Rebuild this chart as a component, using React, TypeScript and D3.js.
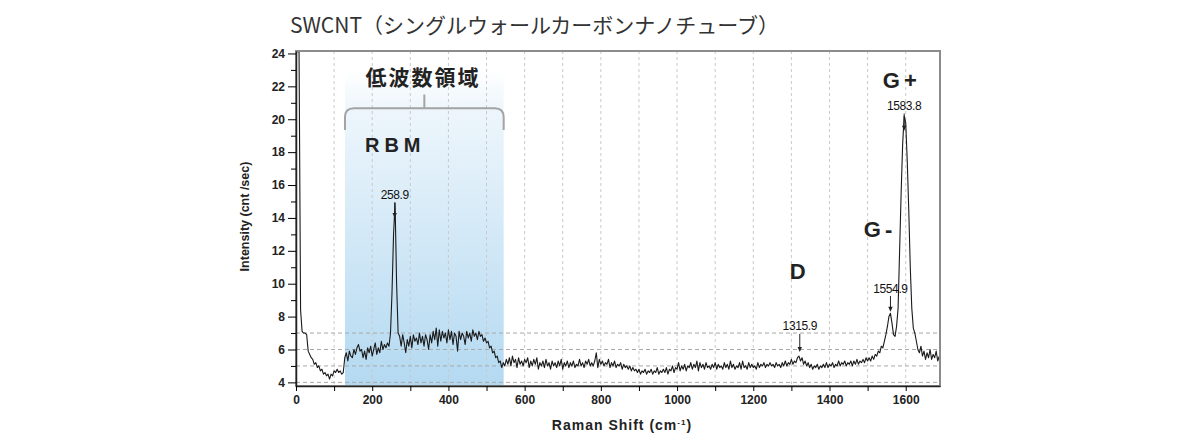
import { useEffect, useRef } from 'react';
import * as d3 from 'd3';

// Raman spectrum sampled every 4 cm-1 starting at 0
const shiftStart = 0;
const shiftStep = 4;
const intensity = [
  // 0 - 124
  24.1, 24.1, 24.1, 8.4, 7.1, 7.0, 7.0, 6.9, 5.9, 5.7, 5.5, 5.4, 5.1, 5.2, 4.9, 5.0,
  4.7, 4.8, 4.5, 4.6, 4.4, 4.5, 4.2, 4.5, 4.4, 4.7, 4.6, 4.8, 4.6, 4.7, 4.5, 4.6,
  // 128 - 252
  5.5, 5.8, 5.3, 5.9, 5.6, 5.5, 6.0, 5.7, 6.1, 6.3, 5.9, 6.0, 5.5, 5.9, 5.4, 6.1,
  5.8, 6.2, 5.6, 6.0, 6.4, 5.7, 6.1, 5.8, 6.5, 6.0, 6.3, 6.1, 6.4, 6.2, 7.0, 9.5,
  // 256 - 380 (RBM)
  13.0, 14.9, 10.0, 7.0, 6.8, 6.2, 6.9, 6.4, 5.8, 6.6, 6.2, 6.8, 6.1, 6.9, 6.5, 6.7,
  6.3, 7.0, 6.4, 6.8, 6.2, 6.9, 6.6, 6.0, 6.9, 6.4, 7.1, 6.6, 7.3, 6.2, 7.2, 6.5,
  // 384 - 508
  7.1, 6.7, 7.0, 6.4, 7.2, 6.6, 7.1, 6.3, 7.0, 6.8, 5.9, 7.1, 6.6, 7.0, 6.8, 6.3,
  7.1, 6.7, 7.0, 6.5, 7.2, 6.8, 7.0, 6.6, 7.1, 6.8, 6.9, 6.5, 6.7, 6.4, 6.5, 6.1,
  // 512 - 636
  6.2, 5.8, 5.9, 5.5, 5.6, 5.2, 5.3, 4.9, 5.2, 5.0, 5.4, 5.1, 5.5, 5.0, 5.6, 5.2,
  5.4, 4.9, 5.5, 5.1, 5.3, 5.0, 5.4, 5.2, 5.5, 4.9, 5.3, 5.0, 5.4, 5.1, 5.5, 4.8,
  // 640 - 764
  5.2, 5.0, 5.3, 4.9, 5.4, 5.0, 5.2, 4.8, 5.3, 5.0, 5.2, 4.9, 5.3, 5.0, 5.4, 4.8,
  5.2, 5.0, 5.3, 4.9, 5.2, 5.0, 5.3, 4.9, 5.1, 5.0, 5.4, 5.0, 5.2, 4.9, 5.3, 5.1,
  // 768 - 892
  5.4, 5.0, 5.2, 5.0, 5.3, 5.8, 4.9, 5.4, 5.1, 5.3, 5.0, 5.2, 5.1, 5.4, 4.9, 5.2,
  5.0, 5.3, 4.9, 5.1, 5.0, 5.2, 4.8, 5.1, 4.9, 5.0, 4.8, 5.0, 4.7, 4.9, 4.7, 4.8,
  // 896 - 1020
  4.6, 4.8, 4.5, 4.7, 4.6, 4.8, 4.5, 4.7, 4.6, 4.8, 4.5, 4.7, 4.6, 4.9, 4.5, 4.7,
  4.6, 4.8, 4.6, 4.9, 4.5, 4.8, 4.7, 5.0, 4.6, 4.9, 4.8, 5.2, 4.7, 5.0, 4.8, 5.1,
  // 1024 - 1148
  4.7, 5.0, 4.9, 5.2, 4.8, 5.1, 4.9, 5.3, 4.7, 5.2, 4.9, 5.1, 4.8, 5.2, 4.9, 5.0,
  4.8, 5.1, 4.9, 5.2, 4.8, 5.1, 4.9, 5.0, 4.8, 5.2, 4.9, 5.1, 4.8, 5.3, 4.9, 5.1,
  // 1152 - 1276
  4.8, 5.0, 4.9, 5.2, 4.8, 5.3, 4.9, 5.0, 4.8, 5.2, 4.9, 5.1, 4.9, 5.0, 4.8, 5.2,
  4.9, 5.1, 5.0, 5.2, 4.9, 5.1, 5.0, 5.2, 5.0, 5.1, 4.9, 5.2, 5.0, 5.1, 4.9, 5.2,
  // 1280 - 1404
  5.0, 5.3, 5.0, 5.2, 5.1, 5.4, 5.1, 5.3, 5.2, 5.5, 5.6, 5.3, 5.5, 5.1, 5.3, 5.0,
  5.2, 4.9, 5.1, 4.8, 5.0, 4.9, 5.1, 4.8, 5.0, 4.9, 5.1, 4.9, 5.2, 4.9, 5.1, 5.0,
  // 1408 - 1532
  5.2, 4.9, 5.1, 5.0, 5.3, 5.0, 5.2, 5.1, 5.3, 5.0, 5.2, 5.1, 5.3, 5.0, 5.3, 5.1,
  5.4, 5.1, 5.3, 5.2, 5.4, 5.2, 5.5, 5.3, 5.5, 5.3, 5.6, 5.4, 5.7, 5.6, 5.9, 5.8,
  // 1536 - 1660 (G- and G+)
  6.2, 6.1, 6.5, 6.9, 7.4, 8.0, 8.2, 7.6, 6.9, 6.8, 7.4, 8.5, 12.0, 15.5, 18.5, 20.2,
  19.8, 17.5, 14.5, 11.0, 8.5, 7.3, 7.0, 6.5, 6.0, 5.8, 6.2, 5.6, 5.9, 5.4, 5.8, 5.5,
  // 1664 - 1688
  6.0, 5.4, 5.7, 5.5, 5.9, 5.3, 5.6,
];

const xTicks = [0, 200, 400, 600, 800, 1000, 1200, 1400, 1600];
const xMinorTicks = [100, 300, 500, 700, 900, 1100, 1300, 1500];
const xGrid = [100, 200, 300, 400, 500, 600, 700, 800, 900, 1000, 1100, 1200, 1300, 1400, 1500, 1600];
const yTicks = [4, 6, 8, 10, 12, 14, 16, 18, 20, 22, 24];
const yMinorTicks = [5, 7, 9, 11, 13, 15, 17, 19, 21, 23];
const yGrid = [4, 5, 6, 7];

// low wavenumber (RBM) band
const lowBand = [128.5, 545];

// peak callouts: label, position, text baseline, arrow start, arrow tip
const peakLabels = ['258.9', '1315.9', '1554.9', '1583.8'];
const peakShifts = [259, 1322, 1560, 1596];
const peakTextY = [15.15, 7.18, 9.45, 20.55];
const peakArrowFrom = [14.95, 6.95, 9.25, 20.35];
const peakArrowTo = [14.0, 5.85, 8.3, 19.3];

// band names
const bandNames = ['D', 'G-', 'G+'];
const bandNameX = [1296, 1490, 1540];
const bandNameY = [10.28, 12.85, 21.9];

const App = () => {
  const svgRef = useRef(null);

  useEffect(() => {
    const svg = d3.select(svgRef.current);
    svg.selectAll('*').remove();

    const width = 1200;
    const height = 447;
    const left = 296, right = 940, top = 51, bottom = 386;

    svg.attr('width', width).attr('height', height);

    const x = d3.scaleLinear().domain([0, 1690]).range([left, right]);
    const y = d3.scaleLinear().domain([3.78, 24.15]).range([bottom, top]);

    const points = intensity.map((v, i) => [shiftStart + i * shiftStep, v]);

    // gradient + clip
    const defs = svg.append('defs');
    const grad = defs.append('linearGradient')
      .attr('id', 'lowband').attr('x1', 0).attr('y1', 0).attr('x2', 0).attr('y2', 1);
    grad.append('stop').attr('offset', '0%').attr('stop-color', '#ffffff');
    grad.append('stop').attr('offset', '12%').attr('stop-color', '#eef6fc');
    grad.append('stop').attr('offset', '100%').attr('stop-color', '#b3d9f1');
    defs.append('clipPath').attr('id', 'plotclip')
      .append('rect').attr('x', left).attr('y', top).attr('width', right - left).attr('height', bottom - top);

    // title
    svg.append('text')
      .attr('x', 290).attr('y', 33)
      .attr('font-family', '"Noto Sans CJK JP", "Noto Sans", sans-serif')
      .attr('font-size', 21)
      .attr('fill', '#333')
      .text('SWCNT（シングルウォールカーボンナノチューブ）');

    // blue low-wavenumber band
    svg.append('rect')
      .attr('x', x(lowBand[0])).attr('y', y(23.0))
      .attr('width', x(lowBand[1]) - x(lowBand[0]))
      .attr('height', bottom - y(23.0))
      .attr('fill', 'url(#lowband)');

    // grid
    svg.append('g').selectAll('line').data(xGrid).enter().append('line')
      .attr('x1', d => x(d)).attr('x2', d => x(d))
      .attr('y1', top).attr('y2', bottom)
      .attr('stroke', '#c9c9c9').attr('stroke-width', 1).attr('stroke-dasharray', '3,3');
    svg.append('g').selectAll('line').data(yGrid).enter().append('line')
      .attr('x1', left).attr('x2', right)
      .attr('y1', d => y(d)).attr('y2', d => y(d))
      .attr('stroke', '#a8a8a8').attr('stroke-width', 1).attr('stroke-dasharray', '4,3');

    // spectrum
    const line = d3.line().x(d => x(d[0])).y(d => y(d[1]));
    svg.append('path')
      .datum(points)
      .attr('clip-path', 'url(#plotclip)')
      .attr('d', line)
      .attr('fill', 'none')
      .attr('stroke', '#1a1a1a')
      .attr('stroke-width', 1.1)
      .attr('stroke-linejoin', 'round');

    // frame
    svg.append('rect')
      .attr('x', left).attr('y', top).attr('width', right - left).attr('height', bottom - top)
      .attr('fill', 'none').attr('stroke', '#8c8c8c').attr('stroke-width', 2);

    const tickFont = 'Arial, "Liberation Sans", sans-serif';

    // y axis
    const yAxis = svg.append('g')
      .attr('transform', `translate(${left},0)`)
      .call(d3.axisLeft(y).tickValues(yTicks).tickSize(8).tickPadding(3).tickSizeOuter(0));
    yAxis.selectAll('text').attr('font-size', 12).attr('font-weight', 'bold').attr('font-family', tickFont).attr('fill', '#222');
    yAxis.select('.domain').attr('stroke', '#222').attr('stroke-width', 1.5);
    svg.append('g')
      .attr('transform', `translate(${left},0)`)
      .call(d3.axisLeft(y).tickValues(yMinorTicks).tickSize(5).tickFormat(() => ''))
      .select('.domain').remove();

    // x axis
    const xAxis = svg.append('g')
      .attr('transform', `translate(0,${bottom})`)
      .call(d3.axisBottom(x).tickValues(xTicks).tickFormat(d3.format('d')).tickSize(5).tickPadding(4).tickSizeOuter(0));
    xAxis.selectAll('text').attr('font-size', 12).attr('font-weight', 'bold').attr('font-family', tickFont).attr('fill', '#222');
    xAxis.select('.domain').attr('stroke', '#222').attr('stroke-width', 1.5);
    svg.append('g')
      .attr('transform', `translate(0,${bottom})`)
      .call(d3.axisBottom(x).tickValues(xMinorTicks).tickSize(5).tickFormat(() => ''))
      .select('.domain').remove();

    // axis titles
    svg.append('text')
      .attr('transform', `translate(249,${(top + bottom) / 2 - 2}) rotate(-90)`)
      .attr('text-anchor', 'middle')
      .attr('font-family', tickFont).attr('font-weight', 'bold').attr('font-size', 12.5)
      .attr('fill', '#222')
      .text('Intensity (cnt /sec)');
    const xt = svg.append('text')
      .attr('x', 622).attr('y', 430)
      .attr('text-anchor', 'middle')
      .attr('font-family', tickFont).attr('font-weight', 'bold').attr('font-size', 14)
      .attr('letter-spacing', 1)
      .attr('fill', '#222');
    xt.append('tspan').text('Raman Shift (cm');
    xt.append('tspan').attr('font-size', 8).attr('dy', -5).text('-1');
    xt.append('tspan').attr('dy', 5).text(')');

    // low wavenumber bracket
    const bTop = y(20.67), bEnd = y(19.34), r = 9;
    const bx0 = x(lowBand[0]), bx1 = x(lowBand[1]);
    svg.append('path')
      .attr('d', `M${bx0},${bEnd} L${bx0},${bTop + r} Q${bx0},${bTop} ${bx0 + r},${bTop} L${bx1 - r},${bTop} Q${bx1},${bTop} ${bx1},${bTop + r} L${bx1},${bEnd}`)
      .attr('fill', 'none').attr('stroke', '#a3a3a3').attr('stroke-width', 2);
    svg.append('line')
      .attr('x1', (bx0 + bx1) / 2).attr('x2', (bx0 + bx1) / 2)
      .attr('y1', bTop).attr('y2', y(21.5))
      .attr('stroke', '#a3a3a3').attr('stroke-width', 2);
    svg.append('text')
      .attr('x', x(333)).attr('y', y(22.07))
      .attr('text-anchor', 'middle')
      .attr('font-family', '"Noto Sans CJK JP", sans-serif').attr('font-weight', 'bold')
      .attr('font-size', 21).attr('letter-spacing', 2)
      .attr('fill', '#222')
      .text('低波数領域');
    svg.append('text')
      .attr('x', x(181)).attr('y', y(18.0))
      .attr('font-family', tickFont).attr('font-weight', 'bold')
      .attr('font-size', 20).attr('letter-spacing', 5)
      .attr('fill', '#222')
      .text('RBM');

    // band names
    svg.append('g').selectAll('text').data(bandNames).enter().append('text')
      .attr('x', (d, i) => x(bandNameX[i])).attr('y', (d, i) => y(bandNameY[i]))
      .attr('font-family', tickFont).attr('font-weight', 'bold')
      .attr('font-size', 22).attr('letter-spacing', 4)
      .attr('fill', '#222')
      .text(d => d);

    // peak callouts
    const callouts = svg.append('g');
    peakLabels.forEach((label, i) => {
      const px = x(peakShifts[i]);
      callouts.append('text')
        .attr('x', px).attr('y', y(peakTextY[i]))
        .attr('text-anchor', 'middle')
        .attr('font-family', tickFont).attr('font-size', 12).attr('letter-spacing', -0.4)
        .attr('fill', '#111')
        .text(label);
      const tip = y(peakArrowTo[i]);
      callouts.append('line')
        .attr('x1', px).attr('x2', px)
        .attr('y1', y(peakArrowFrom[i])).attr('y2', tip - 3)
        .attr('stroke', '#222').attr('stroke-width', 1);
      callouts.append('path')
        .attr('d', `M${px - 2.2},${tip - 5} L${px + 2.2},${tip - 5} L${px},${tip} Z`)
        .attr('fill', '#222');
    });
  }, []);

  return (
    <svg ref={svgRef} style={{ position: 'absolute', left: 0, top: 0, background: '#fff' }}></svg>
  );
};

export default App;
